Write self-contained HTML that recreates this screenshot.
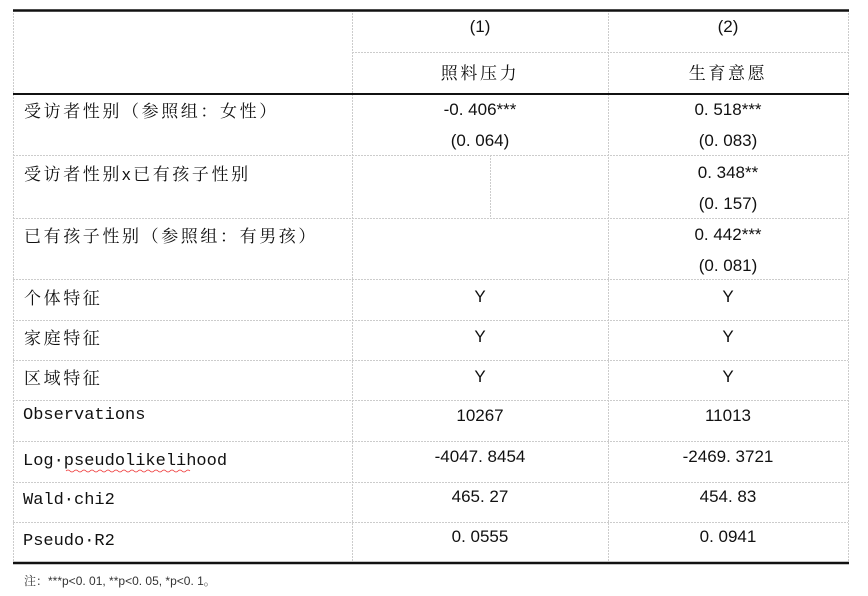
<!DOCTYPE html>
<html><head><meta charset="utf-8"><style>
body{margin:0;width:868px;height:596px;background:#fff;position:relative;overflow:hidden;font-family:"Liberation Sans","Noto Serif CJK SC",sans-serif;color:#111;}
.t{position:absolute;font-size:17px;white-space:nowrap;line-height:20px;}
.c1{left:352px;width:256px;text-align:center;}
.c2{left:608px;width:240px;text-align:center;}
.l{left:24px;}
.cj{font-family:"Noto Serif CJK SC",serif;letter-spacing:2.6px;}
.m{font-family:"Liberation Mono",monospace;font-size:17px;letter-spacing:0;}
</style></head><body>
<svg width="868" height="596" style="position:absolute;left:0;top:0">
<g stroke="#ccc" stroke-width="1" stroke-dasharray="2,1">
<line x1="13.5" y1="10" x2="13.5" y2="563"/>
<line x1="848.5" y1="10" x2="848.5" y2="563"/>
<line x1="352.5" y1="10" x2="352.5" y2="563"/>
<line x1="608.5" y1="10" x2="608.5" y2="563"/>
<line x1="490.5" y1="155" x2="490.5" y2="218"/>
<line x1="352" y1="52.5" x2="848" y2="52.5"/>
<line x1="13" y1="155.5" x2="848" y2="155.5"/>
<line x1="13" y1="218.5" x2="848" y2="218.5"/>
<line x1="13" y1="279.5" x2="848" y2="279.5"/>
<line x1="13" y1="320.5" x2="848" y2="320.5"/>
<line x1="13" y1="360.5" x2="848" y2="360.5"/>
<line x1="13" y1="400.5" x2="848" y2="400.5"/>
<line x1="13" y1="441.5" x2="848" y2="441.5"/>
<line x1="13" y1="482.5" x2="848" y2="482.5"/>
<line x1="13" y1="522.5" x2="848" y2="522.5"/>
</g>
<g stroke="#111">
<line x1="13" y1="10.5" x2="849" y2="10.5" stroke-width="2.5"/>
<line x1="13" y1="94" x2="849" y2="94" stroke-width="2"/>
<line x1="13" y1="563" x2="849" y2="563" stroke-width="2.5"/>
</g>
<path d="M66 471 q2 -2 4 0 t4 0 t4 0 t4 0 t4 0 t4 0 t4 0 t4 0 t4 0 t4 0 t4 0 t4 0 t4 0 t4 0 t4 0 t4 0 t4 0 t4 0 t4 0 t4 0 t4 0 t4 0 t4 0 t4 0 t4 0 t4 0 t4 0 t4 0 t4 0 t4 0 t4 0" stroke="#e33" fill="none" stroke-width="0.8"/>
</svg>
<div class="t c1" style="top:17px">(1)</div>
<div class="t c2" style="top:17px">(2)</div>
<div class="t c1 cj" style="top:62px">照料压力</div>
<div class="t c2 cj" style="top:62px">生育意愿</div>

<div class="t l cj" style="top:100px">受访者性别（参照组：女性）</div>
<div class="t c1" style="top:100px">-0. 406***</div>
<div class="t c2" style="top:100px">0. 518***</div>
<div class="t c1" style="top:131px">(0. 064)</div>
<div class="t c2" style="top:131px">(0. 083)</div>

<div class="t l cj" style="top:163px">受访者性别<span style="font-family:'Liberation Sans'">x</span>已有孩子性别</div>
<div class="t c2" style="top:163px">0. 348**</div>
<div class="t c2" style="top:194px">(0. 157)</div>

<div class="t l cj" style="top:225px">已有孩子性别（参照组：有男孩）</div>
<div class="t c2" style="top:225px">0. 442***</div>
<div class="t c2" style="top:256px">(0. 081)</div>

<div class="t l cj" style="top:287px">个体特征</div>
<div class="t c1" style="top:287px">Y</div><div class="t c2" style="top:287px">Y</div>
<div class="t l cj" style="top:327px">家庭特征</div>
<div class="t c1" style="top:327px">Y</div><div class="t c2" style="top:327px">Y</div>
<div class="t l cj" style="top:367px">区域特征</div>
<div class="t c1" style="top:367px">Y</div><div class="t c2" style="top:367px">Y</div>

<div class="t l m" style="top:406px;left:23px">Observations</div>
<div class="t c1" style="top:406px">10267</div><div class="t c2" style="top:406px">11013</div>
<div class="t l m" style="top:452px;left:23px">Log·pseudolikelihood</div>
<div class="t c1" style="top:447px">-4047. 8454</div><div class="t c2" style="top:447px">-2469. 3721</div>
<div class="t l m" style="top:491px;left:23px">Wald·chi2</div>
<div class="t c1" style="top:487px">465. 27</div><div class="t c2" style="top:487px">454. 83</div>
<div class="t l m" style="top:532px;left:23px">Pseudo·R2</div>
<div class="t c1" style="top:527px">0. 0555</div><div class="t c2" style="top:527px">0. 0941</div>

<div class="t" style="top:571px;left:24px;font-size:12px;color:#333;">注：***p&lt;0. 01, **p&lt;0. 05, *p&lt;0. 1。</div>
</body></html>
